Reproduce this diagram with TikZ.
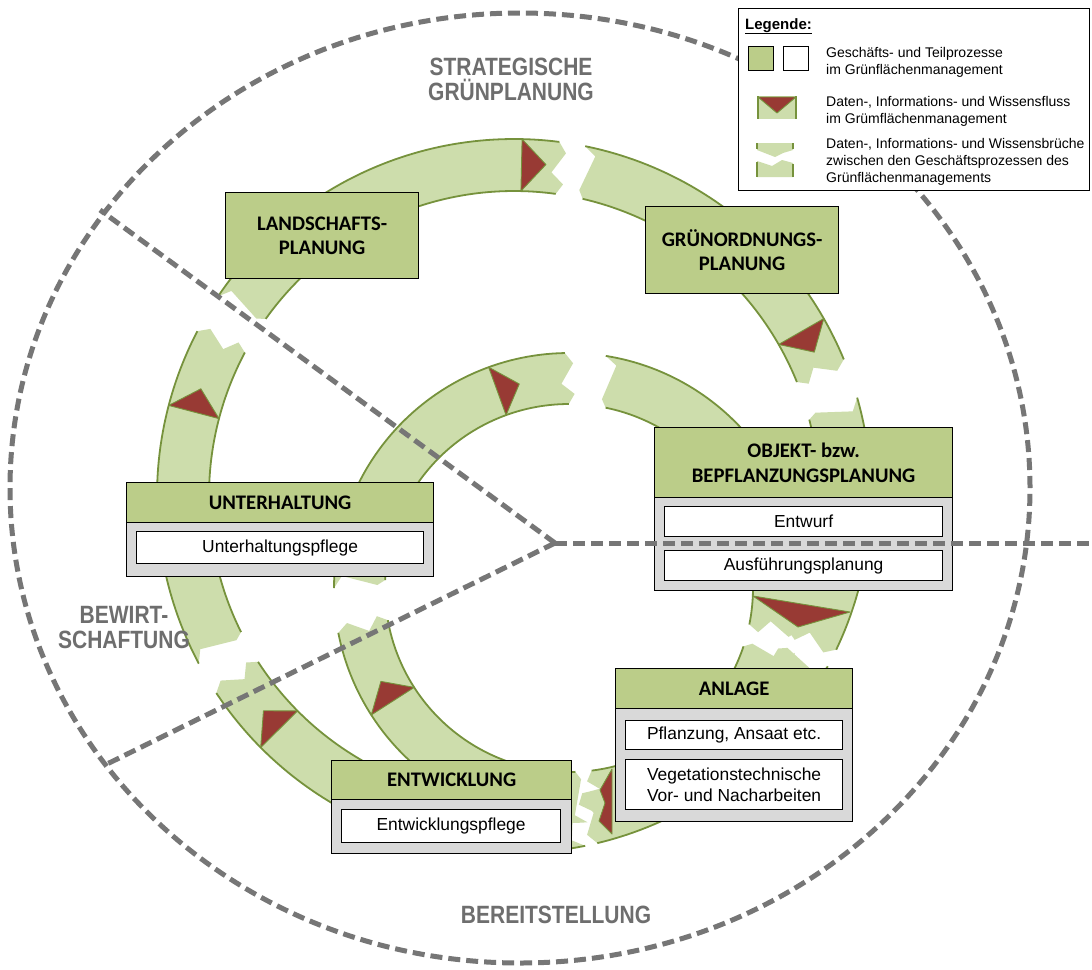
\documentclass[tikz,border=0pt]{standalone}
\usepackage{fontspec}
\setmainfont{Liberation Sans}
\newfontfamily\calib{Carlito}
\newfontfamily\narrowf[FakeStretch=0.84]{Liberation Sans}
\definecolor{bandc}{RGB}{205,221,172}
\definecolor{olivec}{RGB}{118,146,60}
\definecolor{hdrc}{RGB}{187,205,137}
\definecolor{bodyc}{RGB}{217,217,217}
\definecolor{redc}{RGB}{152,58,52}
\definecolor{dashc}{RGB}{118,118,118}
\definecolor{labc}{RGB}{110,110,110}
\tikzset{
 edgest/.style={draw=olivec, line width=1.8pt},
 trist/.style={fill=redc, draw=olivec, line width=0.9pt, line join=round},
 hdrst/.style={draw=black, line width=1.2pt, fill=hdrc, inner sep=0pt, anchor=north west, align=center, font=\calib\bfseries\fontsize{20.7}{24.5}\selectfont},
 bodyst/.style={draw=black, line width=1.2pt, fill=bodyc, inner sep=0pt, anchor=north west},
 subst/.style={draw=black, line width=1.2pt, fill=white, inner sep=0pt, anchor=north west, align=center, font=\fontsize{17.4}{20.5}\selectfont},
 dashst/.style={draw=dashc, line width=5pt, dash pattern=on 12pt off 6pt},
 regst/.style={text=labc, font=\narrowf\bfseries\fontsize{25}{25}\selectfont, align=center, inner sep=0pt},
 legst/.style={font=\fontsize{14}{17}\selectfont, anchor=base west, inner sep=0pt},
}
\newcommand\zz[4]{%
  \pgfmathsetmacro\zzr{\bro-(#2)*(\bro-\bri)}%
  \pgfmathsetmacro\zza{#4+(#3)/\zzr*57.2958}%
  \coordinate (#1) at ({\bcx+\zzr*cos(\zza)},{\bcy+\zzr*sin(\zza)});%
}
\newcommand\bandfill[6]{%
  \def\bcx{#1}\def\bcy{#2}\def\bri{#3}\def\bro{#4}%
  \zz{e1}{0.2}{8}{#6}\zz{e2}{0.6}{-4}{#6}\zz{e3}{0.8}{9}{#6}%
  \zz{s1}{0.15}{12}{#5}\zz{s2}{0.85}{3}{#5}%
  \pgfmathsetmacro\bbi{#6+3/#3*57.2958}%
  \pgfmathsetmacro\bai{#5+8/#3*57.2958}%
  \fill[bandc] plot[domain=#5:#6,samples=70] ({#1+#4*cos(\x)},{#2+#4*sin(\x)})
    -- (e1) -- (e2) -- (e3)
    -- plot[domain=\bbi:\bai,samples=70] ({#1+#3*cos(\x)},{#2+#3*sin(\x)})
    -- (s2) -- (s1) -- cycle;
}
\newcommand\arcedge[5]{\draw[edgest] plot[domain=#4:#5,samples=60] ({#1+#3*cos(\x)},{#2+#3*sin(\x)});}
\newcommand\flowtri[7]{%
  \filldraw[trist] ({#1+#4*cos(#5)},{#2+#4*sin(#5)}) -- ({#1+#7*cos(#6)},{#2+#7*sin(#6)}) -- ({#1+#3*cos(#5)},{#2+#3*sin(#5)}) -- cycle;}
\begin{document}
\begin{tikzpicture}[x=1pt,y=-1pt]
\useasboundingbox (0,0) rectangle (1092,969);
\fill[white] (0,0) rectangle (1092,969);
% ---- bands: loop A (outer), loop B (inner)
\bandfill{514}{496}{305}{357}{214}{277.3}
\bandfill{514}{496}{305}{357}{281.5}{337.5}
\bandfill{514}{496}{305}{357}{344}{385.5}
\bandfill{514}{496}{305}{357}{388.5}{436.5}
\bandfill{514}{496}{305}{357}{78.5}{146.5}
\bandfill{514}{496}{305}{357}{152}{207.5}
\bandfill{569}{588}{184}{235}{279}{370.5}
\bandfill{569}{588}{184}{235}{376}{442}
\bandfill{569}{588}{184}{235}{85.5}{169}
\bandfill{569}{588}{184}{235}{180}{269}
% edges
\arcedge{514}{496}{357}{214}{277.3}
\arcedge{514}{496}{305}{215.5}{277.86}
\arcedge{514}{496}{357}{281.5}{337.5}
\arcedge{514}{496}{305}{283}{338.06}
\arcedge{514}{496}{357}{344}{385.5}
\arcedge{514}{496}{305}{345.5}{358}
\arcedge{514}{496}{357}{388.5}{436.5}
\arcedge{514}{496}{357}{78.5}{146.5}
\arcedge{514}{496}{305}{100}{147.06}
\arcedge{514}{496}{357}{152}{207.5}
\arcedge{514}{496}{305}{153.5}{208.06}
\arcedge{569}{588}{184}{281.49}{371.43}
\arcedge{569}{588}{235}{279}{330}
\arcedge{569}{588}{184}{378.49}{442.93}
\arcedge{569}{588}{184}{87.99}{169.93}
\arcedge{569}{588}{235}{100}{169}
\arcedge{569}{588}{184}{182.49}{269.93}
\arcedge{569}{588}{235}{180}{269}
% flow triangles
\flowtri{514}{496}{305}{357}{271.3}{275.5}{333}
\flowtri{514}{496}{305}{357}{330.2}{334.4}{333}
\flowtri{514}{496}{305}{357}{135.2}{139.4}{330}
\flowtri{514}{496}{305}{357}{194.7}{198.9}{331}
\flowtri{569}{588}{184}{235}{147.3}{153.6}{210}
\flowtri{569}{588}{184}{235}{250}{256.3}{210}
\filldraw[trist] (753,596) -- (850,612) -- (798,627) -- cycle;
\filldraw[trist] (612,769) -- (600,790) -- (605,803) -- (599,821) -- (612,834) -- cycle;
% ---- boxes
\node[hdrst, minimum width=193pt, minimum height=86pt] (land) at (225,192) {LANDSCHAFTS-\\PLANUNG};
\node[hdrst, minimum width=193pt, minimum height=87pt] (gruen) at (645,206) {GRÜNORDNUNGS-\\PLANUNG};
\node[bodyst, minimum width=298pt, minimum height=93pt] (objb) at (654,497) {};
\node[hdrst, minimum width=298pt, minimum height=70pt] (objh) at (654,427) {OBJEKT- bzw.\\BEPFLANZUNGSPLANUNG};
\node[subst, minimum width=278pt, minimum height=30pt] (obj1) at (664,506) {Entwurf};
\node[subst, minimum width=278pt, minimum height=30pt] (obj2) at (664,550) {Ausführungsplanung};
\node[bodyst, minimum width=307pt, minimum height=54pt] (unb) at (126,522) {};
\node[hdrst, minimum width=307pt, minimum height=40pt] (unh) at (126,482) {UNTERHALTUNG};
\node[subst, minimum width=287pt, minimum height=32pt] (un1) at (136,531) {Unterhaltungspflege};
\node[bodyst, minimum width=237pt, minimum height=113pt] (anb) at (615,708) {};
\node[hdrst, minimum width=237pt, minimum height=40pt] (anh) at (615,668) {ANLAGE};
\node[subst, minimum width=217pt, minimum height=29pt] (an1) at (625,720) {Pflanzung, Ansaat etc.};
\node[subst, minimum width=217pt, minimum height=50pt] (an2) at (625,759) {Vegetationstechnische\\Vor- und Nacharbeiten};
\node[bodyst, minimum width=240pt, minimum height=54pt] (enb) at (331,799) {};
\node[hdrst, minimum width=240pt, minimum height=39pt] (enh) at (331,760) {ENTWICKLUNG};
\node[subst, minimum width=219pt, minimum height=33pt] (en1) at (341,809) {Entwicklungspflege};
% ---- dashed sector lines and outer ring
\coordinate (ctr) at (555,543);
\coordinate (ulc) at (100,210);
\coordinate (llc) at (105,765);
\coordinate (rrc) at (1092,543);
\draw[dashst] (ctr) -- (ulc);
\draw[dashst] (ctr) -- (llc);
\draw[dashst] (ctr) -- (rrc);
\draw[dashst] (520,488) ellipse [x radius=510pt, y radius=475pt];
% ---- region labels
\node[regst] (reg1) at (511,79) {STRATEGISCHE\\GRÜNPLANUNG};
\node[regst] (reg2) at (124,628) {BEWIRT-\\SCHAFTUNG};
\node[regst] (reg3) at (556,915) {BEREITSTELLUNG};
% ---- legend
\node[draw=black, line width=1.2pt, fill=white, minimum width=351pt, minimum height=182pt, anchor=north west, inner sep=0pt] (leg) at (738,8) {};
\node[anchor=base west, inner sep=0pt, font=\bfseries\fontsize{15}{18}\selectfont] (legt) at (745,29) {\underline{Legende:}};
\node[draw=black, line width=1pt, fill=hdrc, minimum width=25pt, minimum height=24pt, anchor=north west, inner sep=0pt] (lgA) at (748,46) {};
\node[draw=black, line width=1pt, fill=white, minimum width=25pt, minimum height=24pt, anchor=north west, inner sep=0pt] (lgB) at (783,46) {};
\fill[bandc] (758,96) rectangle (796,119);
\draw[edgest] (758,96) -- (758,119);
\draw[edgest] (796,96) -- (796,119);
\filldraw[trist] (758,97) -- (796,97) -- (777,113) -- cycle;
\fill[bandc] (757,143) -- (793,143) -- (793,150) -- (783,153) -- (775,157) -- (757,150) -- cycle;
\fill[bandc] (757,161) -- (772,166) -- (782,160) -- (793,163) -- (793,177) -- (757,177) -- cycle;
\draw[edgest] (757,143) -- (757,149);
\draw[edgest] (793,143) -- (793,149);
\draw[edgest] (757,162) -- (757,177);
\draw[edgest] (793,164) -- (793,177);
\node[legst] (lg1a) at (826,57) {Geschäfts- und Teilprozesse};
\node[legst] (lg1b) at (826,74) {im Grünflächenmanagement};
\node[legst] (lg2a) at (826,106) {Daten-, Informations- und Wissensfluss};
\node[legst] (lg2b) at (826,123) {im Grümflächenmanagement};
\node[legst] (lg3a) at (826,148) {Daten-, Informations- und Wissensbrüche};
\node[legst] (lg3b) at (826,165) {zwischen den Geschäftsprozessen des};
\node[legst] (lg3c) at (826,182) {Grünflächenmanagements};
\end{tikzpicture}
\end{document}
